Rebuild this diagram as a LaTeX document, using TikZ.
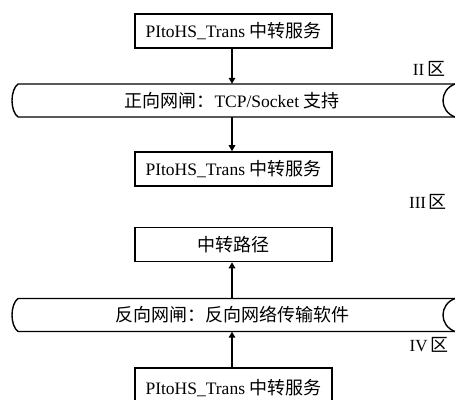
\documentclass[tikz,border=0pt]{standalone}
\usepackage{fontspec}
\setmainfont{Liberation Serif}
\newfontfamily\cjkraw{Noto Sans CJK SC}
\newcommand{\cjk}{\cjkraw\fontsize{18}{20}\selectfont}
\usetikzlibrary{arrows.meta}
\begin{document}
\begin{tikzpicture}[x=1pt,y=-1pt,
  box/.style={draw,line width=1.6pt,minimum width=197pt,minimum height=34pt,inner sep=0pt,font=\fontsize{17.5}{20}\selectfont},
  pipetext/.style={inner sep=0pt,minimum height=33pt,font=\fontsize{17.5}{20}\selectfont},
  pipeline/.style={line width=1.4pt},
  zone/.style={inner sep=0pt,font=\fontsize{17}{18}\selectfont},
  arr/.style={line width=1.8pt,-{Triangle[length=6pt,width=6.5pt]}}]
\useasboundingbox (0,0) rectangle (455,399);
\clip (0,0) rectangle (455,399);
\node[box] (b1) at (233.5,31) {PItoHS\_Trans {\cjk 中转服务}};
\node[pipetext] (p1) at (232,100.5) {{\cjk 正向网闸：}TCP/Socket {\cjk 支持}};
\node[box] (b2) at (233.5,169) {PItoHS\_Trans {\cjk 中转服务}};
\node[box] (b3) at (233.5,244.5) {\cjk 中转路径};
\node[pipetext] (p2) at (232,315) {\cjk 反向网闸：反向网络传输软件};
\node[box,minimum height=46pt,text depth=0pt] (b4) at (233.5,391) {\raisebox{9pt}{PItoHS\_Trans {\cjk 中转服务}}};
\node[zone] (z2) at (429,69) {II\,{\cjk 区}};
\node[zone] (z3) at (428,202) {III\,{\cjk 区}};
\node[zone] (z4) at (429,345) {IV\,{\cjk 区}};
% pipes
\draw[pipeline] (455,84) -- (18,84) .. controls (10,90) and (10,111) .. (18,117) -- (455,117);
\draw[pipeline] (455,84) .. controls (439,90) and (439,111) .. (455,117);
\draw[pipeline] (455,298.5) -- (18,298.5) .. controls (10,304.5) and (10,325.5) .. (18,331.5) -- (455,331.5);
\draw[pipeline] (455,298.5) .. controls (439,304.5) and (439,325.5) .. (455,331.5);
% arrows
\draw[arr] (p1.north |- b1.south) -- (p1.north);
\draw[arr] (p1.south) -- (p1.south |- b2.north);
\draw[arr] (p2.north) -- (p2.north |- b3.south);
\draw[arr] (p2.south |- b4.north) -- (p2.south);
\end{tikzpicture}
\end{document}
